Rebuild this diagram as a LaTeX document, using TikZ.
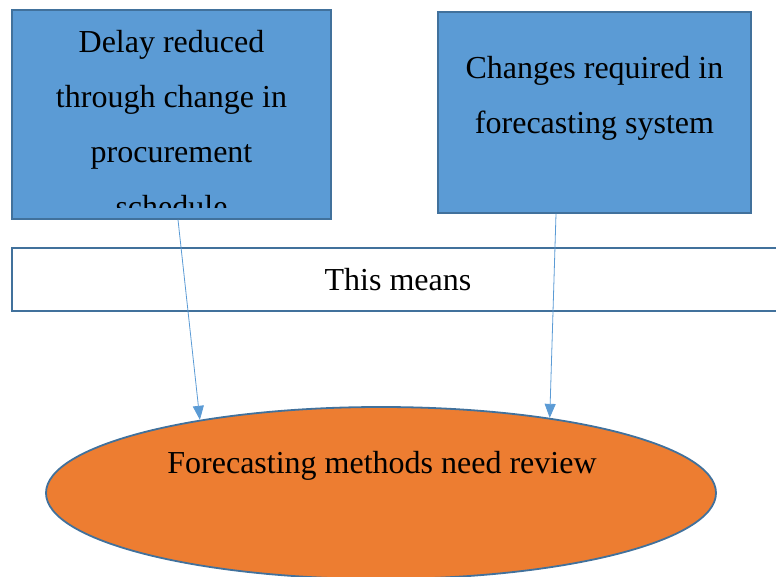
\documentclass[tikz,border=0pt]{standalone}
\usepackage{fontspec}
\setmainfont{Liberation Serif}
\usetikzlibrary{shapes.geometric,arrows.meta}
\definecolor{boxblue}{RGB}{91,155,213}
\definecolor{edgeblue}{RGB}{65,113,156}
\definecolor{ellorange}{RGB}{237,125,49}
\begin{document}
\begin{tikzpicture}[x=1pt,y=-1pt,
  font=\fontsize{32}{55}\selectfont,
  bluebox/.style={rectangle, draw=edgeblue, fill=boxblue, line width=1.5pt, inner sep=0pt},
  barbox/.style={rectangle, draw=edgeblue, fill=white, line width=1.5pt, inner sep=0pt},
  ellnode/.style={ellipse, draw=edgeblue, fill=ellorange, line width=1.8pt, inner sep=0pt},
  boxtext/.style={anchor=base, align=center, inner sep=0pt},
  conn/.style={draw=boxblue, line width=0.8pt, -{Triangle[length=14pt,width=11pt]}}]
\useasboundingbox (0,0) rectangle (776,577);
% top boxes
\node[bluebox, minimum width=319pt, minimum height=209pt] (box1) at (171.5,114.5) {};
\begin{scope}
  \clip (12,10) rectangle (331,208);
  \node[boxtext] (t1) at (171.5,218) {Delay reduced\\through change in\\procurement\\schedule};
\end{scope}
\node[bluebox, minimum width=313pt, minimum height=201pt] (box2) at (594.5,112.5) {};
\node[boxtext] (t2) at (594.5,134) {Changes required in\\forecasting system};
% bar
\node[barbox, minimum width=772pt, minimum height=63pt] (bar) at (398,279.5) {This means};
% ellipse
\node[ellnode, minimum width=670pt, minimum height=172pt] (ell) at (381,493) {};
\node[boxtext] (t3) at (382,473) {Forecasting methods need review};
% connectors
\draw[conn] ([xshift=6.5pt]box1.south) -- (ell.158.4);
\draw[conn] ([xshift=-38.5pt]box2.south) -- (ell.24.4);
\end{tikzpicture}
\end{document}
